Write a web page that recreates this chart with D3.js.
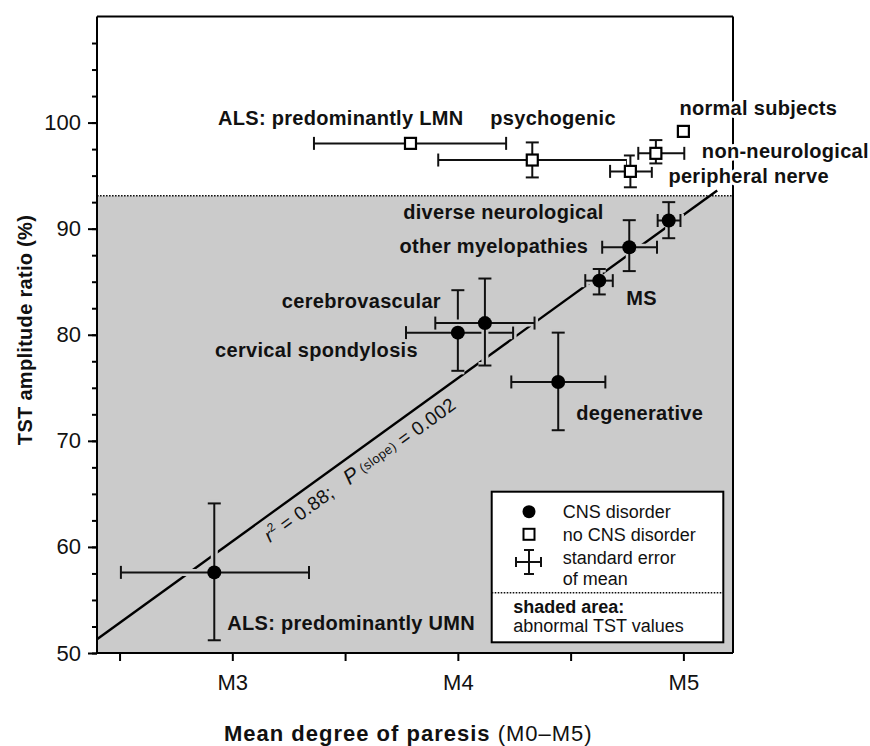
<!DOCTYPE html>
<html>
<head>
<meta charset="utf-8">
<script src="https://cdn.jsdelivr.net/npm/d3@7/dist/d3.min.js"></script>
<style>
  html, body { margin: 0; padding: 0; background: #ffffff; }
  svg { display: block; font-family: "Liberation Sans", Arial, Helvetica, sans-serif; }
</style>
</head>
<body>
<svg id="chart" width="870" height="746"></svg>
<script>
// ---------------- data ----------------
const categories = [
  "ALS: predominantly UMN", "cervical spondylosis", "cerebrovascular", "degenerative",
  "MS", "other myelopathies", "diverse neurological",
  "ALS: predominantly LMN", "psychogenic", "peripheral nerve", "non-neurological", "normal subjects"
];
const cnsDisorder = [true, true, true, true, true, true, true, false, false, false, false, false];
const paresisMean = [2.92, 4.00, 4.12, 4.445, 4.627, 4.76, 4.935, 3.79, 4.33, 4.765, 4.878, 5.00];
const paresisLow  = [2.506, 3.77, 3.90, 4.237, 4.565, 4.64, 4.886, 3.362, 3.913, 4.675, 4.80, null];
const paresisHigh = [3.34, 4.245, 4.34, 4.654, 4.687, 4.883, 4.987, 4.214, 4.75, 4.86, 5.004, null];
const tstMean = [57.6, 80.2, 81.1, 75.55, 85.1, 88.25, 90.77, 98.04, 96.47, 95.4, 97.1, 99.17];
const tstLow  = [51.2, 76.6, 77.1, 71.0, 83.8, 86.0, 89.1, null, 94.83, 93.9, 96.15, null];
const tstHigh = [64.1, 84.2, 85.3, 80.2, 86.2, 90.8, 92.5, null, 98.13, 96.9, 98.35, null];

const abnormalThreshold = 93.1;         // upper limit of shaded (abnormal) area
const regressionIntercept = 14.39;      // TST = a + b * paresis
const regressionSlope = 15.38;
const regressionRange = [2.4, 5.15];

const xTickValues = [2.5, 3, 3.5, 4, 4.5, 5];
const xTickLabels = { 3: "M3", 4: "M4", 5: "M5" };
const yMajorTicks = [50, 60, 70, 80, 90, 100];
const yMinorTicks = d3.range(50, 110, 2.5);

// ---------------- layout ----------------
const W = 870, H = 746;
const plot = { left: 97, right: 733, top: 16.5, bottom: 653 };
const x = d3.scaleLinear().domain([2.4, 5.22]).range([plot.left, plot.right]);
const y = d3.scaleLinear().domain([50, 110]).range([plot.bottom, plot.top]);

// label placement (pixel offsets from the point; anchor)
const labelLayout = {
  "ALS: predominantly UMN": { dx: 13, dy: 58, anchor: "start" },
  "cervical spondylosis":   { dx: -40, dy: 24, anchor: "end" },
  "cerebrovascular":        { dx: -44, dy: -15, anchor: "end" },
  "degenerative":           { dx: 18, dy: 38, anchor: "start" },
  "MS":                     { dx: 27, dy: 24, anchor: "start" },
  "other myelopathies":     { dx: -41, dy: 6, anchor: "end" },
  "diverse neurological":   { dx: -65, dy: -1, anchor: "end" },
  "ALS: predominantly LMN": { dx: 53, dy: -18, anchor: "end" },
  "psychogenic":            { dx: -42, dy: -35, anchor: "start" },
  "peripheral nerve":       { dx: 38, dy: 12, anchor: "start" },
  "non-neurological":       { dx: 46, dy: 5, anchor: "start" },
  "normal subjects":        { dx: -4, dy: -16, anchor: "start" }
};

const SHADE = "#cbcbcb";
const svg = d3.select("#chart");
svg.append("rect").attr("width", W).attr("height", H).attr("fill", "#fff");

const rows = categories.map((c, i) => ({
  name: c, cns: cnsDisorder[i],
  x: paresisMean[i], xl: paresisLow[i], xh: paresisHigh[i],
  y: tstMean[i], yl: tstLow[i], yh: tstHigh[i]
}));

// shaded abnormal area
svg.append("rect")
  .attr("x", plot.left).attr("y", y(abnormalThreshold))
  .attr("width", plot.right - plot.left).attr("height", plot.bottom - y(abnormalThreshold))
  .attr("fill", SHADE);
svg.append("line")
  .attr("x1", plot.left).attr("x2", plot.right)
  .attr("y1", y(abnormalThreshold)).attr("y2", y(abnormalThreshold))
  .attr("stroke", "#111").attr("stroke-width", 1.6).attr("stroke-dasharray", "1.6,1.4");

// regression line
const regLine = d3.line().x(d => x(d)).y(d => y(regressionIntercept + regressionSlope * d));
svg.append("path").datum(regressionRange).attr("d", regLine)
  .attr("fill", "none").attr("stroke", "#000").attr("stroke-width", 2.4);

// regression annotation
const angle = Math.atan2(y(regressionIntercept + regressionSlope * 4) - y(regressionIntercept + regressionSlope * 3), x(4) - x(3)) * 180 / Math.PI;
const ann = svg.append("text")
  .attr("transform", `translate(270,543) rotate(${angle})`)
  .attr("font-size", 19).attr("fill", "#111").attr("letter-spacing", 0.4);
ann.append("tspan").attr("font-style", "italic").text("r");
ann.append("tspan").attr("font-size", 12).attr("dy", -8).text("2");
ann.append("tspan").attr("dy", 8).text(" = 0.88;\u00a0\u00a0\u00a0");
ann.append("tspan").attr("font-style", "italic").attr("font-size", 21).text("P");
ann.append("tspan").attr("font-size", 13).attr("dy", -2).text(" (slope)");
ann.append("tspan").attr("dy", 2).text(" = 0.002");

// error bars (each point: halo then bar, so later bars interrupt earlier ones)
const CAP = 6.5;
function barSegs(d) {
  const s = [];
  if (d.xl != null) {
    s.push([x(d.xl), y(d.y), x(d.xh), y(d.y)]);
    s.push([x(d.xl), y(d.y) - CAP, x(d.xl), y(d.y) + CAP]);
    s.push([x(d.xh), y(d.y) - CAP, x(d.xh), y(d.y) + CAP]);
  }
  if (d.yl != null) {
    s.push([x(d.x), y(d.yl), x(d.x), y(d.yh)]);
    s.push([x(d.x) - CAP, y(d.yl), x(d.x) + CAP, y(d.yl)]);
    s.push([x(d.x) - CAP, y(d.yh), x(d.x) + CAP, y(d.yh)]);
  }
  return s;
}
const bars = svg.append("g");
rows.forEach(d => {
  const bg = d.y < abnormalThreshold ? SHADE : "#fff";
  const g = bars.append("g");
  barSegs(d).forEach(s => {
    g.append("line").attr("x1", s[0]).attr("y1", s[1]).attr("x2", s[2]).attr("y2", s[3])
      .attr("stroke", bg).attr("stroke-width", 7).attr("stroke-linecap", "butt");
  });
  barSegs(d).forEach(s => {
    g.append("line").attr("x1", s[0]).attr("y1", s[1]).attr("x2", s[2]).attr("y2", s[3])
      .attr("stroke", "#111").attr("stroke-width", 2);
  });
});

// points
const pts = svg.append("g");
rows.forEach(d => {
  if (d.cns) {
    pts.append("circle").attr("cx", x(d.x)).attr("cy", y(d.y)).attr("r", 7).attr("fill", "#000");
  } else {
    pts.append("rect").attr("x", x(d.x) - 5.5).attr("y", y(d.y) - 5.5)
      .attr("width", 11).attr("height", 11)
      .attr("fill", "#fff").attr("stroke", "#000").attr("stroke-width", 2.2);
  }
});

// frame
const frame = svg.append("g").attr("stroke", "#000").attr("stroke-width", 2);
frame.append("line").attr("x1", plot.left).attr("x2", plot.right).attr("y1", plot.top).attr("y2", plot.top);
frame.append("line").attr("x1", plot.left).attr("x2", plot.right).attr("y1", plot.bottom).attr("y2", plot.bottom);
frame.append("line").attr("x1", plot.left).attr("x2", plot.left).attr("y1", plot.top).attr("y2", plot.bottom);
frame.append("line").attr("x1", plot.right).attr("x2", plot.right).attr("y1", plot.top).attr("y2", plot.bottom);

// point labels
const labels = svg.append("g").attr("font-weight", "bold").attr("font-size", 20)
  .attr("letter-spacing", 0.3).attr("fill", "#111");
rows.forEach(d => {
  const L = labelLayout[d.name];
  const bg = d.y < abnormalThreshold ? SHADE : "#fff";
  labels.append("text")
    .attr("x", x(d.x) + L.dx).attr("y", y(d.y) + L.dy)
    .attr("text-anchor", L.anchor)
    .attr("stroke", bg).attr("stroke-width", 6).attr("paint-order", "stroke")
    .attr("stroke-linejoin", "round")
    .text(d.name);
});

// axes
const xAxis = d3.axisBottom(x).tickValues(xTickValues)
  .tickFormat(d => xTickLabels[d] || "").tickSize(8).tickPadding(13);
const gx = svg.append("g").attr("transform", `translate(0,${plot.bottom})`).call(xAxis);
gx.select(".domain").remove();
gx.selectAll("line").attr("stroke", "#000").attr("stroke-width", 2);
gx.selectAll("text").attr("font-size", 22).attr("fill", "#111").attr("font-family", "Liberation Sans, Arial, sans-serif");

const yMinor = d3.axisLeft(y).tickValues(yMinorTicks).tickFormat("").tickSize(5);
const gyMinor = svg.append("g").attr("transform", `translate(${plot.left},0)`).call(yMinor);
gyMinor.select(".domain").remove();
gyMinor.selectAll("line").attr("stroke", "#000").attr("stroke-width", 2);

const yAxis = d3.axisLeft(y).tickValues(yMajorTicks).tickSize(9).tickPadding(7);
const gy = svg.append("g").attr("transform", `translate(${plot.left},0)`).call(yAxis);
gy.select(".domain").remove();
gy.selectAll("line").attr("stroke", "#000").attr("stroke-width", 2);
gy.selectAll("text").attr("font-size", 22).attr("fill", "#111").attr("font-family", "Liberation Sans, Arial, sans-serif");

// axis titles
svg.append("text")
  .attr("transform", `translate(32,330) rotate(-90)`)
  .attr("text-anchor", "middle").attr("font-weight", "bold").attr("font-size", 20)
  .attr("letter-spacing", 0.3).attr("fill", "#111")
  .text("TST amplitude ratio (%)");
const xt = svg.append("text").attr("x", 224).attr("y", 741)
  .attr("font-size", 22).attr("letter-spacing", 1).attr("fill", "#111");
xt.append("tspan").attr("font-weight", "bold").text("Mean degree of paresis");
xt.append("tspan").text(" (M0\u2013M5)");

// legend
const lg = svg.append("g");
const LB = { x: 491.7, y: 491.7, w: 231.6, h: 150.6 };
lg.append("rect").attr("x", LB.x).attr("y", LB.y).attr("width", LB.w).attr("height", LB.h)
  .attr("fill", "#fff").attr("stroke", "#000").attr("stroke-width", 2);
lg.append("line").attr("x1", LB.x).attr("x2", LB.x + LB.w).attr("y1", 592.7).attr("y2", 592.7)
  .attr("stroke", "#111").attr("stroke-width", 1.6).attr("stroke-dasharray", "1.6,1.4");
const symX = 529;
lg.append("circle").attr("cx", symX).attr("cy", 511.7).attr("r", 6.5).attr("fill", "#000");
lg.append("rect").attr("x", symX - 5.5).attr("y", 534.3 - 5.5).attr("width", 11).attr("height", 11)
  .attr("fill", "#fff").attr("stroke", "#000").attr("stroke-width", 2);
const cross = [[516, 562, 541, 562], [516, 557, 516, 567], [541, 557, 541, 567],
               [529, 550, 529, 574], [524, 550, 534, 550], [524, 574, 534, 574]];
cross.forEach(s => lg.append("line").attr("x1", s[0]).attr("y1", s[1]).attr("x2", s[2]).attr("y2", s[3])
  .attr("stroke", "#111").attr("stroke-width", 2));
const legendText = [
  { t: "CNS disorder", x: 562.7, y: 518 },
  { t: "no CNS disorder", x: 562.7, y: 541 },
  { t: "standard error", x: 562.7, y: 564 },
  { t: "of mean", x: 562.7, y: 585 }
];
legendText.forEach(d => lg.append("text").attr("x", d.x).attr("y", d.y)
  .attr("font-size", 18).attr("fill", "#111").text(d.t));
lg.append("text").attr("x", 513.3).attr("y", 612.5).attr("font-size", 18)
  .attr("font-weight", "bold").attr("fill", "#111").text("shaded area:");
lg.append("text").attr("x", 513.3).attr("y", 632.3).attr("font-size", 18)
  .attr("fill", "#111").text("abnormal TST values");
</script>
</body>
</html>
